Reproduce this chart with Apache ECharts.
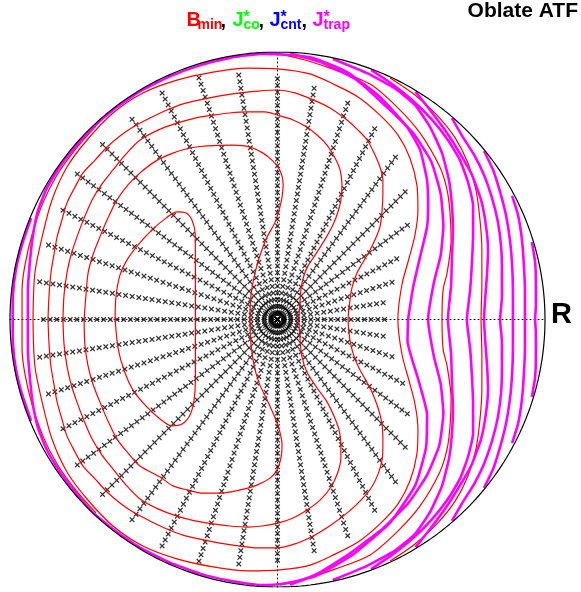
<!DOCTYPE html>
<html>
<head>
<meta charset="utf-8">
<script src="https://cdn.jsdelivr.net/npm/echarts@6/dist/echarts.min.js"></script>
<style>
html, body { margin: 0; padding: 0; background: #fff; }
#chart { width: 581px; height: 592px; }
</style>
</head>
<body>
<div id="chart"></div>
<script>
// Field-line start points: rays (degrees) and how far out each ray reaches (percent of minor radius)
const rayAngles = [0, 9, 18, 27, 36, 45, 54, 63, 72, 81, 90, 99, 108, 117, 126, 135, 144, 153, 162, 171,
  180, 189, 198, 207, 216, 225, 234, 243, 252, 261, 270, 279, 288, 297, 306, 315, 324, 333, 342, 351];
const rayReach = [41, 40.5, 46, 51, 61, 68.5, 76, 81, 85.5, 88, 90.7, 93.3, 95.6, 96, 92.7, 93.4, 93, 90, 90.6, 90.6,
  88, 90.5, 90.3, 90, 93, 92.7, 92.5, 95.3, 95.5, 92.8, 90.7, 87.6, 85.5, 80.5, 76, 68, 60.5, 53.4, 46, 41];
const markerRadii = [0, 2.5, 5, 7.5, 10, 12.5, 15, 17.5, 20, 22.5, 25, 27.5, 30, 32.5, 35, 37.5, 40, 42.5, 45,
  47.5, 50, 52.5, 55, 57.5, 60, 62.5, 65, 67.5, 70, 72.5, 75, 77.5, 80, 82.5, 85, 87.5, 90, 92.5, 95];
const boundaryRadius = 100;

// B_min contours (x, y in percent of minor radius)
const bmin1 = [[-60.7,0],[-60.4,8.4],[-58.9,16.6],[-56.3,22.2],[-52.1,27.9],[-46.9,33.5],[-41.7,37.9],[-37.6,40.2],
  [-34.2,39.8],[-32.0,37.2],[-30.8,32.3],[-30.7,22.2],[-30.7,11.0],[-30.7,0],[-30.7,-11.4],[-30.7,-22.6],[-31.2,-30.1],
  [-32.7,-35.7],[-35.7,-39.1],[-39.4,-39.8],[-43.9,-37.2],[-49.2,-32.3],[-54.0,-26.4],[-57.4,-18.9],[-59.6,-10.7],[-60.7,0]];
const bmin2 = [[-72.3,0],[-71.6,9.2],[-70.8,17.4],[-69.0,24.1],[-66.4,30.8],[-63.4,37.9],[-60.0,44.7],[-55.9,50.3],
  [-51.4,54.8],[-45.4,59.3],[-39.1,62.2],[-32.7,64.1],[-26.4,64.9],[-16.6,65.2],[-10.3,64.5],[-5.4,62.2],[-2.1,59.6],
  [0.2,57.0],[1.7,53.6],[2.1,50.3],[1.7,45.8],[0.9,42.1],[-0.9,36.4],[-3.9,30.8],[-6.5,24.1],[-8.4,17.4],[-9.9,9.2],
  [-10.3,0],[-9.9,-9.3],[-8.8,-17.0],[-6.9,-23.7],[-3.9,-30.1],[-0.9,-36.8],[0.9,-42.1],[1.7,-46.9],[1.3,-51.8],
  [-0.2,-56.3],[-2.8,-59.3],[-7.7,-61.9],[-14.0,-63.7],[-21.5,-64.9],[-27.9,-64.9],[-33.8,-63.7],[-39.1,-62.2],
  [-43.9,-58.9],[-51.4,-54.8],[-55.9,-49.9],[-60.0,-44.7],[-63.4,-37.9],[-66.4,-30.8],[-69.0,-24.1],[-70.8,-17.4],
  [-72.0,-9.5],[-72.3,0]];
const bmin3 = [[-80.2,0],[-79.8,9.2],[-78.7,17.4],[-77.2,24.1],[-75.0,30.8],[-72.3,37.9],[-69.3,44.7],[-65.6,50.7],
  [-61.5,55.9],[-56.6,61.9],[-51.4,67.1],[-44.7,70.8],[-37.6,73.4],[-30.8,75.3],[-24.1,76.4],[-17.8,77.2],[-11.4,77.6],
  [-4.7,77.6],[0.9,76.1],[5.8,74.6],[10.3,72.3],[14.8,69.0],[18.5,65.2],[21.5,60.4],[23.4,55.9],[24.1,50.3],[23.7,44.7],
  [22.6,40.2],[20.7,35.3],[18.1,30.5],[14.8,25.2],[11.0,19.3],[9.0,12.9],[8.4,6.5],[8.0,0],[8.4,-6.9],[9.0,-13.3],
  [11.0,-19.6],[14.8,-25.6],[18.5,-30.8],[21.1,-36.1],[23.0,-41.3],[23.7,-46.9],[23.7,-51.8],[22.6,-57.0],[20.0,-62.6],
  [15.9,-67.5],[11.0,-71.2],[5.8,-74.2],[0.2,-76.1],[-5.8,-77.2],[-11.4,-77.6],[-17.8,-77.2],[-24.1,-76.4],[-30.8,-75.3],
  [-37.6,-73.5],[-44.7,-70.8],[-51.4,-67.1],[-56.6,-61.9],[-61.5,-55.9],[-65.6,-50.7],[-69.3,-44.7],[-72.3,-37.9],
  [-75.0,-30.8],[-77.2,-24.1],[-78.7,-17.4],[-79.8,-9.2],[-80.2,0]];
const bmin4 = [[-85.8,0],[-85.4,9.2],[-84.7,17.4],[-83.6,24.1],[-82.4,30.8],[-80.6,37.2],[-78.7,43.6],[-75.7,49.5],
  [-72.7,54.8],[-68.2,59.6],[-63.7,64.5],[-58.9,68.6],[-54.0,72.0],[-47.7,75.3],[-41.3,78.3],[-35.3,80.6],[-29.0,82.1],
  [-21.5,83.6],[-14.0,84.7],[-7.3,85.4],[-0.2,85.8],[6.5,84.7],[13.3,82.1],[19.6,79.1],[26.0,74.6],[30.1,70.8],
  [33.5,67.1],[36.1,62.2],[38.3,57.0],[39.4,52.1],[39.4,47.3],[39.1,40.9],[38.3,34.6],[36.4,29.7],[34.6,26.0],
  [32.0,21.5],[29.7,17.4],[27.9,12.1],[27.1,7.3],[26.4,0],[27.1,-7.7],[28.2,-12.5],[30.1,-17.4],[32.7,-22.2],
  [35.3,-27.1],[37.6,-33.1],[39.1,-39.4],[39.4,-46.2],[39.1,-52.5],[37.6,-57.8],[35.0,-63.0],[31.2,-67.5],[26.4,-72.0],
  [20.0,-76.8],[13.3,-80.9],[6.5,-83.9],[-0.2,-85.4],[-7.3,-85.4],[-14.0,-84.7],[-21.5,-83.6],[-29.0,-82.1],
  [-35.3,-80.6],[-41.3,-78.3],[-47.7,-75.3],[-54.0,-72.0],[-58.9,-68.6],[-63.7,-64.5],[-68.2,-59.6],[-72.7,-54.8],
  [-75.7,-49.5],[-78.7,-43.6],[-80.6,-37.2],[-82.4,-30.8],[-83.6,-24.1],[-84.7,-17.4],[-85.4,-9.2],[-85.8,0]];
const bmin5 = [[-91.4,0],[-90.7,17.4],[-88.0,30.8],[-84.3,44.7],[-78.7,57.0],[-71.2,67.1],[-61.5,77.2],[-50.3,84.7],
  [-37.6,89.5],[-24.1,92.5],[-11.4,94.0],[0.9,93.6],[12.1,91.8],[21.5,87.7],[30.1,83.2],[38.3,76.4],[45.0,69.0],
  [49.5,60.4],[52.1,50.3],[52.5,40.9],[51.4,31.6],[49.2,23.0],[46.5,12.9],[45.0,0],[46.5,-12.9],[49.2,-23.0],
  [51.4,-31.6],[52.5,-40.9],[52.1,-50.3],[49.5,-60.4],[45.0,-69.0],[38.3,-76.4],[30.1,-83.2],[21.5,-87.7],[12.1,-91.8],
  [0.9,-93.6],[-11.4,-94.0],[-24.1,-92.5],[-37.6,-89.5],[-50.3,-84.7],[-61.5,-77.2],[-71.2,-67.1],[-78.7,-57.0],
  [-84.3,-44.7],[-88.0,-30.8],[-90.7,-17.4],[-91.4,0]];
const bmin6West = [[-67.9,72.3],[-75.7,63.4],[-82.4,54.0],[-87.7,43.6],[-91.8,31.6],[-94.4,20.4],[-95.5,11.0],[-95.5,0],
  [-95.5,-11.0],[-94.4,-20.4],[-91.8,-31.6],[-87.7,-43.6],[-82.4,-54.0],[-75.7,-63.4],[-67.9,-72.3]];
const bmin6East = [[0.9,99.3],[10.3,97.0],[21.5,93.3],[34.6,88.0],[44.7,79.4],[53.3,69.7],[60.7,57.0],[63.4,48.4],
  [64.5,39.8],[64.9,29.7],[63.4,17.4],[61.9,11.0],[61.5,0],[61.9,-11.0],[63.4,-17.4],[64.9,-29.7],[64.5,-39.8],
  [63.4,-48.4],[60.7,-57.0],[53.3,-69.7],[44.7,-79.4],[34.6,-88.0],[21.5,-93.3],[10.3,-97.0],[0.9,-99.3]];
const bmin7 = [[42.1,90.3],[51.4,83.9],[59.6,76.4],[66.4,67.9],[71.2,58.5],[74.2,48.4],[75.7,37.2],[76.4,26.0],
  [76.4,12.9],[76.1,0],[76.4,-12.9],[76.4,-26.0],[75.7,-37.2],[74.2,-48.4],[71.2,-58.5],[66.4,-67.9],[59.6,-76.4],
  [51.4,-83.9],[42.1,-90.3]];

// J*_trap contours
const jtrap1 = [[48.8,0],[50.7,12.1],[53.3,23.4],[55.9,34.6],[56.3,42.1],[55.9,52.1],[53.3,63.4],[48.4,72.0],[38.3,83.2],
  [26.0,92.5],[13.3,97.8],[4.7,98.9],[-6.5,99.3],[-17.8,97.8],[-29.0,95.0],[-40.2,90.9],[-51.4,85.3],[-60.7,79.0],
  [-69.3,71.5],[-75.7,64.4],[-81.3,57.3],[-86.2,49.2],[-89.5,40.9],[-91.4,31.6],[-92.5,22.2],[-93.3,11.0],[-93.3,0],
  [-93.3,-11.4],[-92.5,-22.6],[-91.4,-32.0],[-89.5,-40.6],[-86.2,-48.8],[-81.3,-57.0],[-75.7,-64.4],[-69.3,-71.9],
  [-60.7,-79.0],[-51.4,-85.3],[-40.2,-90.9],[-29.0,-95.0],[-17.8,-97.7],[-6.5,-99.3],[2.0,-98.8],[14.0,-96.0],
  [28.0,-88.0],[42.0,-76.0],[51.5,-62.0],[55.5,-48.0],[55.9,-35.5],[52.5,-22.0],[48.6,-8.0],[48.8,0]];
const jtrap2East = [[4.7,99.4],[17.0,95.9],[29.7,89.5],[40.9,79.4],[50.7,69.7],[57.5,59.0],[61.0,47.0],[62.0,35.0],
  [61.0,24.0],[58.5,14.0],[56.3,0],[58.5,-14.0],[61.0,-24.0],[62.0,-35.0],[60.5,-47.0],[56.0,-58.0],[49.0,-68.5],
  [39.5,-78.0],[27.0,-87.5],[15.0,-95.0],[4.7,-99.2]];
const jtrap2West = [[-92.1,37.9],[-95.5,27.9],[-97.8,18.5],[-98.9,9.2],[-99.0,0],[-98.9,-9.2],[-97.8,-18.5],
  [-95.5,-27.9],[-92.1,-37.9]];
const jtrap3 = [[20.7,97.4],[33.5,92.1],[43.9,86.4],[51.4,80.2],[57.0,72.0],[61.5,62.2],[64.1,52.1],[65.2,42.8],
  [65.6,33.5],[65.2,23.0],[64.9,12.9],[63.7,0],[64.9,-12.9],[65.2,-23.0],[65.6,-33.5],[65.2,-42.8],[64.1,-52.1],
  [61.5,-62.2],[57.0,-72.0],[51.4,-80.2],[43.9,-86.4],[33.5,-92.1],[20.7,-97.4]];
const jtrap4 = [[35.0,93.3],[42.8,88.0],[50.7,81.7],[57.8,74.6],[63.7,67.1],[68.2,59.6],[71.2,51.4],[73.1,42.8],
  [73.1,31.6],[72.7,21.5],[72.0,11.0],[70.8,0],[72.0,-11.0],[72.7,-21.5],[73.1,-31.6],[73.1,-42.8],[71.2,-51.4],
  [68.2,-59.6],[63.7,-67.1],[57.8,-74.6],[50.7,-81.7],[42.8,-88.0],[35.0,-93.3]];
const jtrap5 = [[51.6,85.2],[57.0,78.3],[62.6,70.8],[67.9,62.6],[72.7,54.0],[76.1,44.7],[77.9,35.3],[78.7,26.0],
  [78.3,16.6],[77.6,7.3],[77.2,0],[77.6,-7.3],[78.3,-16.6],[78.7,-26.0],[77.9,-35.3],[76.1,-44.7],[72.7,-54.0],
  [67.9,-62.6],[62.6,-70.8],[57.0,-78.3],[51.6,-85.2]];
const jtrap6 = [[65.2,75.3],[69.3,68.2],[73.5,61.5],[77.2,54.0],[80.2,45.4],[82.4,36.4],[83.6,27.1],[83.9,17.8],
  [83.9,8.4],[83.2,0],[83.9,-8.4],[83.9,-17.8],[83.6,-27.1],[82.4,-36.4],[80.2,-45.4],[77.2,-54.0],[73.5,-61.5],
  [69.3,-68.2],[65.2,-75.3]];
const jtrap7 = [[77.2,63.0],[80.6,55.9],[83.2,47.7],[85.4,39.1],[86.9,29.7],[87.7,20.4],[88.0,11.0],[88.0,0],
  [88.0,-11.0],[87.7,-20.4],[86.9,-29.7],[85.4,-39.1],[83.2,-47.7],[80.6,-55.9],[77.2,-63.0]];
const jtrap8 = [[87.7,46.2],[89.9,39.1],[91.4,29.7],[92.1,20.4],[92.5,11.0],[92.5,0],[92.5,-11.0],[92.1,-20.4],
  [91.4,-29.7],[89.9,-39.1],[87.7,-46.2]];
const jtrap9 = [[95.1,29.0],[96.3,21.5],[96.6,12.9],[96.6,5.4],[96.3,0],[96.6,-5.4],[96.6,-12.9],[96.3,-21.5],[95.1,-29.0]];

const bminLines = [bmin1, bmin2, bmin3, bmin4, bmin5, bmin6West, bmin6East, bmin7];
const jtrapLines = [jtrap1, jtrap2East, jtrap2West, jtrap3, jtrap4, jtrap5, jtrap6, jtrap7, jtrap8, jtrap9];

// polar start points -> cartesian
const startPoints = [];
rayAngles.forEach(function (deg, i) {
  const t = deg * Math.PI / 180;
  markerRadii.forEach(function (r) {
    if (r <= rayReach[i]) startPoints.push([r * Math.cos(t), r * Math.sin(t)]);
  });
});

// outer flux-surface boundary
const boundary = [];
for (let k = 0; k <= 360; k++) {
  const t = k * Math.PI / 180;
  boundary.push([boundaryRadius * Math.cos(t), boundaryRadius * Math.sin(t)]);
}

const FONT = '"Liberation Sans", Arial, Helvetica, sans-serif';
const crossPath = 'path://M0,1.6L1.6,0L5,3.4L8.4,0L10,1.6L6.6,5L10,8.4L8.4,10L5,6.6L1.6,10L0,8.4L3.4,5Z';

function curve(data, color, width, smooth, z) {
  return {
    type: 'line', data: data, showSymbol: false, symbol: 'none', smooth: smooth,
    lineStyle: { color: color, width: width }, silent: true, z: z, emphasis: { disabled: true }
  };
}

const series = [];
series.push({
  type: 'scatter', data: startPoints, symbol: crossPath, symbolSize: 5.5,
  itemStyle: { color: '#000' }, silent: true, z: 2, emphasis: { disabled: true }
});
bminLines.forEach(function (d) { series.push(curve(d, '#ff0000', 1.2, 0.3, 3)); });
jtrapLines.forEach(function (d) { series.push(curve(d, '#ff00ff', 2.6, 0.15, 4)); });
series.push(curve(boundary, '#000', 1.2, false, 5));

function txt(text, x, y, size, color) {
  return {
    type: 'text', x: x, y: y, silent: true,
    style: {
      text: text, fill: color, font: 'bold ' + size + 'px ' + FONT,
      textAlign: 'left', textVerticalAlign: 'middle', align: 'left', verticalAlign: 'middle'
    }
  };
}

const graphic = [
  // legend label: B_min, J*_co, J*_cnt, J*_trap
  txt('B', 186.5, 20, 20, '#ff0000'),
  txt('min', 197.5, 25.5, 14, '#ff0000'),
  txt(',', 220.5, 21, 20, '#000'),
  txt('J', 232.5, 20, 20, '#00ff00'),
  txt('*', 243.5, 17.5, 16, '#00ff00'),
  txt('co', 243.5, 25.5, 14, '#00ff00'),
  txt(',', 258.5, 21, 20, '#000'),
  txt('J', 269.5, 20, 20, '#0000ff'),
  txt('*', 280.5, 17.5, 16, '#0000ff'),
  txt('cnt', 280.5, 25.5, 14, '#0000ff'),
  txt(',', 301.5, 21, 20, '#000'),
  txt('J', 312.5, 20, 20, '#ff00ff'),
  txt('*', 323.5, 17.5, 16, '#ff00ff'),
  txt('trap', 323.5, 25.5, 14, '#ff00ff'),
  // title and axis letter
  {
    type: 'text', x: 578, y: 11, silent: true,
    style: { text: 'Oblate ATF', fill: '#000', font: 'bold 21px ' + FONT,
      textAlign: 'right', textVerticalAlign: 'middle', align: 'right', verticalAlign: 'middle' }
  },
  txt('R', 551, 315, 29, '#000')
];

const axisCommon = {
  type: 'value', min: -100, max: 100,
  axisLine: { show: true, onZero: true, lineStyle: { color: '#000', width: 1, type: [1, 3] } },
  axisTick: { show: false }, axisLabel: { show: false }, splitLine: { show: false }
};

const chart = echarts.init(document.getElementById('chart'), null, { renderer: 'canvas' });
chart.setOption({
  animation: false,
  backgroundColor: '#fff',
  grid: { left: 10, top: 52, width: 535, height: 535, containLabel: false },
  xAxis: Object.assign({}, axisCommon),
  yAxis: Object.assign({}, axisCommon),
  graphic: graphic,
  series: series
});
</script>
</body>
</html>
